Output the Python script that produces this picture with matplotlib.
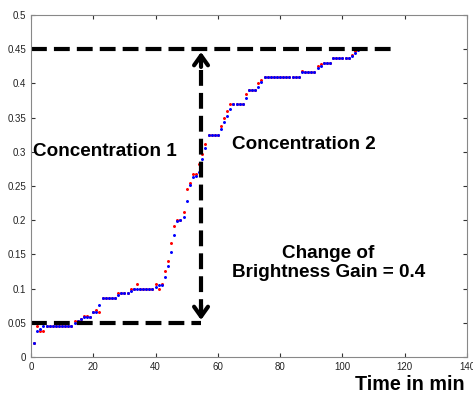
import matplotlib
matplotlib.use("Agg")
import matplotlib.pyplot as plt

# --- DATA ---
time_min = list(range(1, 106))

blue_vals = [0.020, 0.038, 0.041, 0.045, 0.045, 0.045, 0.045, 0.045, 0.045, 0.045,
             0.045, 0.045, 0.045, 0.049, 0.052, 0.055, 0.058, 0.058, 0.058, 0.066,
             0.066, 0.076, 0.086, 0.086, 0.086, 0.086, 0.086, 0.090, 0.093, 0.093,
             0.093, 0.097, 0.100, 0.100, 0.100, 0.100, 0.100, 0.100, 0.100, 0.103,
             0.106, 0.106, 0.117, 0.133, 0.153, 0.179, 0.199, 0.200, 0.205, 0.228,
             0.252, 0.263, 0.265, 0.271, 0.290, 0.305, 0.325, 0.325, 0.325, 0.325,
             0.334, 0.344, 0.352, 0.362, 0.370, 0.370, 0.370, 0.370, 0.378, 0.390,
             0.390, 0.390, 0.395, 0.402, 0.410, 0.410, 0.410, 0.410, 0.410, 0.410,
             0.410, 0.410, 0.410, 0.410, 0.410, 0.410, 0.416, 0.416, 0.416, 0.416,
             0.416, 0.422, 0.426, 0.430, 0.430, 0.430, 0.437, 0.437, 0.437, 0.437,
             0.437, 0.437, 0.440, 0.444, 0.449]

red_vals = [0.020, 0.045, 0.038, 0.038, 0.045, 0.045, 0.045, 0.045, 0.045, 0.045,
            0.045, 0.045, 0.045, 0.053, 0.053, 0.055, 0.060, 0.060, 0.058, 0.066,
            0.068, 0.066, 0.086, 0.086, 0.086, 0.086, 0.086, 0.093, 0.093, 0.093,
            0.093, 0.100, 0.100, 0.107, 0.100, 0.100, 0.100, 0.100, 0.100, 0.107,
            0.100, 0.107, 0.126, 0.140, 0.166, 0.192, 0.200, 0.200, 0.212, 0.245,
            0.255, 0.268, 0.268, 0.282, 0.297, 0.311, 0.325, 0.325, 0.325, 0.325,
            0.338, 0.350, 0.360, 0.370, 0.370, 0.370, 0.370, 0.370, 0.385, 0.390,
            0.390, 0.390, 0.400, 0.405, 0.410, 0.410, 0.410, 0.410, 0.410, 0.410,
            0.410, 0.410, 0.410, 0.410, 0.410, 0.410, 0.418, 0.416, 0.416, 0.416,
            0.416, 0.426, 0.428, 0.430, 0.430, 0.430, 0.437, 0.437, 0.437, 0.437,
            0.437, 0.437, 0.442, 0.447, 0.451]

x_ticks = [0, 20, 40, 60, 80, 100, 120, 140]
y_ticks = [0, 0.05, 0.1, 0.15, 0.2, 0.25, 0.3, 0.35, 0.4, 0.45, 0.5]
y_tick_labels = ["0", "0.05", "0.1", "0.15", "0.2", "0.25", "0.3", "0.35", "0.4", "0.45", "0.5"]

level_low = 0.05
level_high = 0.45
switch_time = 54.6
line_end_high = 116.5

plt.rcParams['font.family'] = ['Liberation Sans', 'DejaVu Sans']

# --- PLOTTING ---
fig = plt.figure(figsize=(4.73, 3.94), dpi=100)
ax = fig.add_axes([0.0655, 0.0939, 0.9218, 0.868])

ax.plot(time_min, red_vals, linestyle='none', marker='.', markersize=2.3, color='#ff0000')
ax.plot(time_min, blue_vals, linestyle='none', marker='.', markersize=2.3, color='#0000ff')

dash = (0, (3.8, 1.7))
ax.plot([0, line_end_high], [level_high, level_high], color='black', linewidth=3, linestyle=dash)
ax.plot([0, switch_time], [level_low, level_low], color='black', linewidth=3, linestyle=dash)
ax.plot([switch_time, switch_time], [level_low + 0.012, level_high - 0.012],
        color='black', linewidth=3, linestyle=dash)

# open arrowheads at both ends of the vertical line
ax.annotate("", xy=(switch_time, level_high), xytext=(switch_time, level_high - 0.03),
            arrowprops=dict(arrowstyle='->,head_length=0.7,head_width=0.5', color='black', lw=3))
ax.annotate("", xy=(switch_time, level_low), xytext=(switch_time, level_low + 0.03),
            arrowprops=dict(arrowstyle='->,head_length=0.7,head_width=0.5', color='black', lw=3))

ax.text(0.5, 0.3, "Concentration 1", fontsize=13.6, fontweight='bold', ha='left', va='center')
ax.text(64.5, 0.311, "Concentration 2", fontsize=13.6, fontweight='bold', ha='left', va='center')
ax.text(95.5, 0.138, "Change of\nBrightness Gain = 0.4", fontsize=13.6, fontweight='bold',
        ha='center', va='center', linespacing=1.15)
fig.text(0.983, 0.023, "Time in min", fontsize=14.2, fontweight='bold', ha='right', va='center')

ax.set_xlim(0, 140)
ax.set_ylim(0, 0.5)
ax.set_xticks(x_ticks)
ax.set_yticks(y_ticks)
ax.set_yticklabels(y_tick_labels)
ax.tick_params(direction='in', length=3, labelsize=7, colors='#333333',
               top=True, right=True, labelcolor='#222222')
for side in ax.spines.values():
    side.set_color('#888888')
    side.set_linewidth(0.8)

fig.savefig("out.png", dpi=100)
